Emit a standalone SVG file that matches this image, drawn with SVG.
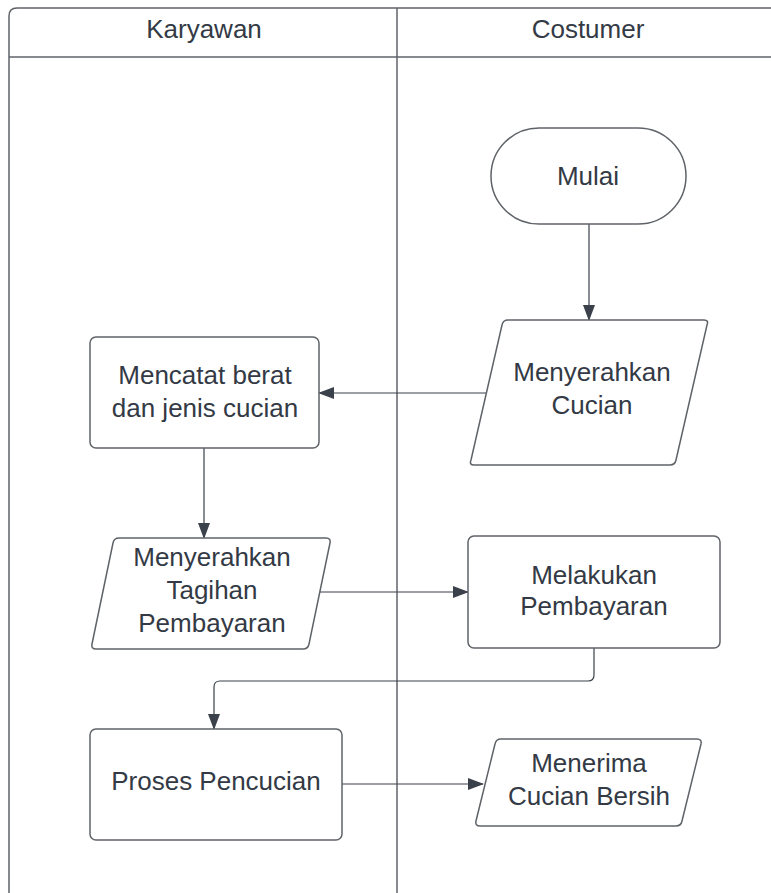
<svg xmlns="http://www.w3.org/2000/svg" width="771" height="893" viewBox="0 0 771 893">
<style>
.lane{fill:none;stroke:#5f6368;stroke-width:1.5}
.shape{fill:#ffffff;stroke:#5f6368;stroke-width:1.5}
.txt{font-family:"Liberation Sans",Arial,sans-serif;font-size:26px;fill:#333a45;text-anchor:middle}
.conn{fill:none;stroke:#3a414a;stroke-width:1.2}
</style>
<defs>
<marker id="ah" markerWidth="16" markerHeight="12" refX="15" refY="6" orient="auto" markerUnits="userSpaceOnUse">
<path d="M0,0 L16,6 L0,12 Z" fill="#3a414a"/>
</marker>
</defs>
<rect width="771" height="893" fill="#ffffff"/>
<g id="pool">
<path class="lane" d="M9,900 L9,16 Q9,8 17,8 L780,8"/>
<line class="lane" x1="9" y1="57" x2="780" y2="57"/>
<line class="lane" x1="397" y1="8" x2="397" y2="900"/>
<text class="txt" x="204" y="38">Karyawan</text>
<text class="txt" x="588" y="38">Costumer</text>
</g>
<g id="connectors">
<line class="conn" x1="589" y1="224" x2="589" y2="320" marker-end="url(#ah)"/>
<line class="conn" x1="487" y1="393" x2="319" y2="393" marker-end="url(#ah)"/>
<line class="conn" x1="204" y1="448" x2="204" y2="538" marker-end="url(#ah)"/>
<line class="conn" x1="316" y1="592" x2="468" y2="592" marker-end="url(#ah)"/>
<path class="conn" d="M594,648 L594,675 Q594,681 588,681 L220,681 Q214,681 214,687 L214,729" marker-end="url(#ah)"/>
<line class="conn" x1="342" y1="784" x2="483" y2="784" marker-end="url(#ah)"/>
</g>
<g id="mulai">
<rect class="shape" x="491" y="128" width="195" height="96" rx="48" ry="48"/>
<text class="txt" x="588" y="185">Mulai</text>
</g>
<g id="menyerahkan-cucian">
<path class="shape" d="M508,320 L704,320 Q709,320 707,325 L676,460 Q675,465 670,465 L474,465 Q469,465 471,460 L502,325 Q503,320 508,320 Z"/>
<text class="txt" x="592" y="381">Menyerahkan</text>
<text class="txt" x="592" y="414">Cucian</text>
</g>
<g id="mencatat">
<rect class="shape" x="90" y="337" width="229" height="111" rx="6" ry="6"/>
<text class="txt" x="205" y="384">Mencatat berat</text>
<text class="txt" x="205" y="417">dan jenis cucian</text>
</g>
<g id="tagihan">
<path class="shape" d="M119,538 L326,538 Q331,538 330,543 L309,644 Q308,649 303,649 L96,649 Q91,649 92,644 L113,543 Q114,538 119,538 Z"/>
<text class="txt" x="212" y="566">Menyerahkan</text>
<text class="txt" x="212" y="599">Tagihan</text>
<text class="txt" x="212" y="632">Pembayaran</text>
</g>
<g id="melakukan">
<rect class="shape" x="468" y="536" width="252" height="112" rx="6" ry="6"/>
<text class="txt" x="594" y="584">Melakukan</text>
<text class="txt" x="594" y="615">Pembayaran</text>
</g>
<g id="proses">
<rect class="shape" x="90" y="729" width="252" height="111" rx="6" ry="6"/>
<text class="txt" x="216" y="790">Proses Pencucian</text>
</g>
<g id="menerima">
<path class="shape" d="M505,739 L697,739 Q702,739 701,744 L682,821 Q681,826 676,826 L480,826 Q475,826 476,821 L495,744 Q496,739 501,739 Z"/>
<text class="txt" x="589" y="772">Menerima</text>
<text class="txt" x="589" y="805">Cucian Bersih</text>
</g>
</svg>
